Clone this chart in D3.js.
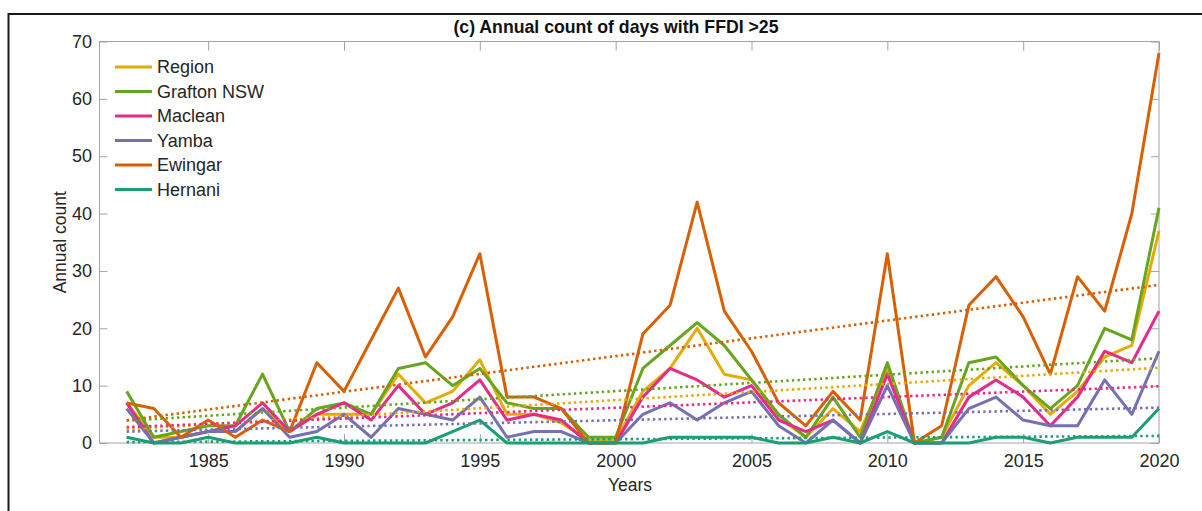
<!DOCTYPE html>
<html><head><meta charset="utf-8">
<script src="https://cdn.jsdelivr.net/npm/d3@7/dist/d3.min.js"></script>
<style>
body{margin:0;background:#fff;}
svg{display:block;font-family:"Liberation Sans",Arial,Helvetica,sans-serif;}
</style>
</head><body>
<svg id="chart" width="1202" height="511"></svg>
<script>
// ---- data ----
const years = [1982,1983,1984,1985,1986,1987,1988,1989,1990,1991,1992,1993,1994,1995,1996,1997,1998,1999,2000,
  2001,2002,2003,2004,2005,2006,2007,2008,2009,2010,2011,2012,2013,2014,2015,2016,2017,2018,2019,2020];
const seriesNames = ["Region","Grafton NSW","Maclean","Yamba","Ewingar","Hernani"];
const seriesColors = ["#e6ab02","#66a61e","#e7298a","#7570b3","#d95f02","#1b9e77"];
const region  = [7,1,1,2,2,6,2,5,5,5,12,7,9,14.5,5,5,3.5,0.5,0.5,9,13,20,12,11,4.5,1,6,2,13,0,1,10,14,10,5,9,15,17,37];
const grafton = [9,1,2,3,3,12,2,6,7,5,13,14,10,13,7,6,6,1,1,13,17,21,17,11,5,1,8,1,14,0,1,14,15,10,6,10,20,18,41];
const maclean = [7,0,1,2,3,7,2,5,7,4,10,5,7,11,4,5,4,0,0,8,13,11,8,10,4,2,4,0,12,0,0,8,11,8,3,8,16,14,23];
const yamba   = [6,0,1,2,2,6,1,2,5,1,6,5,4,8,1,2,2,0,0,5,7,4,7,9,3,0,4,0,10,0,0,6,8,4,3,3,11,5,16];
const ewingar = [7,6,1,4,1,4,2,14,9,18,27,15,22,33,8,8,6,0,0,19,24,42,23,16,7,3,9,4,33,0,3,24,29,22,12,29,23,40,68];
const hernani = [1,0,0,1,0,0,0,1,0,0,0,0,2,4,0,0,0,0,0,0,1,1,1,1,0,0,1,0,2,0,0,0,1,1,0,1,1,1,6];
const seriesValues = [region, grafton, maclean, yamba, ewingar, hernani];
const xTicks = [1985,1990,1995,2000,2005,2010,2015,2020];
const yTicks = [0,10,20,30,40,50,60,70];
const titleText = "(c) Annual count of days with FFDI >25";
const xLabel = "Years", yLabel = "Annual count";

// ---- layout ----
const svg = d3.select("#chart");
const L = 99.5, R = 1159, T = 41.5, B = 443;
const x = d3.scaleLinear().domain([1981, 2020]).range([L, R]);
const y = d3.scaleLinear().domain([0, 70]).range([B, T]);
const axisColor = "#a3a3a3", textColor = "#262626";

// outer frame
svg.append("path").attr("d", `M8.5,520 L8.5,14 L1210,14`)
  .attr("fill","none").attr("stroke","#1a1a1a").attr("stroke-width",2);

// axes box
svg.append("rect").attr("x",L).attr("y",T).attr("width",R-L).attr("height",B-T)
  .attr("fill","none").attr("stroke",axisColor).attr("stroke-width",1);

// bottom axis
const gx = svg.append("g").attr("transform",`translate(0,${B})`)
  .call(d3.axisBottom(x).tickValues(xTicks).tickFormat(d3.format("d")).tickSize(-9).tickPadding(11.5));
// top axis ticks
const gxt = svg.append("g").attr("transform",`translate(0,${T})`)
  .call(d3.axisTop(x).tickValues(xTicks).tickFormat("").tickSize(-9));
// left axis
const gy = svg.append("g").attr("transform",`translate(${L},0)`)
  .call(d3.axisLeft(y).tickValues(yTicks).tickSize(-8).tickPadding(7.5));
// right axis ticks
const gyr = svg.append("g").attr("transform",`translate(${R},0)`)
  .call(d3.axisRight(y).tickValues(yTicks).tickFormat("").tickSize(-8));
[gx,gxt,gy,gyr].forEach(g=>{
  g.select(".domain").remove();
  g.selectAll(".tick line").attr("stroke",axisColor);
  g.selectAll(".tick text").attr("fill",textColor).attr("font-size",18)
    .attr("font-family",'"Liberation Sans",Arial,sans-serif');
});

// series lines
const line = d3.line().x((d,i)=>x(years[i])).y(d=>y(d));
seriesValues.forEach((vals,k)=>{
  svg.append("path").datum(vals).attr("d",line)
    .attr("fill","none").attr("stroke",seriesColors[k]).attr("stroke-width",3)
    .attr("stroke-linejoin","round").attr("stroke-linecap","butt");
});

// linear trends (least squares from the series)
seriesValues.forEach((vals,k)=>{
  const mx = d3.mean(years), my = d3.mean(vals);
  let sxy=0, sxx=0;
  years.forEach((yr,i)=>{ sxy += (yr-mx)*(vals[i]-my); sxx += (yr-mx)*(yr-mx); });
  const b = sxy/sxx, a = my - b*mx;
  const ends = [years[0], years[years.length-1]];
  svg.append("path")
    .attr("d", d3.line().x(d=>x(d)).y(d=>y(a+b*d))(ends))
    .attr("fill","none").attr("stroke",seriesColors[k]).attr("stroke-width",2.6)
    .attr("stroke-dasharray","2.4,3.2");
});

// title
svg.append("text").attr("x",616).attr("y",33).attr("text-anchor","middle")
  .attr("font-weight","bold").attr("font-size",17.7).attr("fill","#111").text(titleText);
// axis labels
svg.append("text").attr("x",630).attr("y",491).attr("text-anchor","middle")
  .attr("font-size",17.5).attr("fill",textColor).text(xLabel);
svg.append("text").attr("transform",`translate(66,${(T+B)/2}) rotate(-90)`)
  .attr("text-anchor","middle").attr("font-size",17.5).attr("fill",textColor).text(yLabel);

// legend
const lg = svg.append("g");
seriesNames.forEach((n,k)=>{
  const cy = 67 + k*24.5;
  lg.append("line").attr("x1",115).attr("x2",152).attr("y1",cy).attr("y2",cy)
    .attr("stroke",seriesColors[k]).attr("stroke-width",3);
  lg.append("text").attr("x",157).attr("y",cy+6.3).attr("font-size",18)
    .attr("fill",textColor).text(n);
});
</script>
</body></html>
